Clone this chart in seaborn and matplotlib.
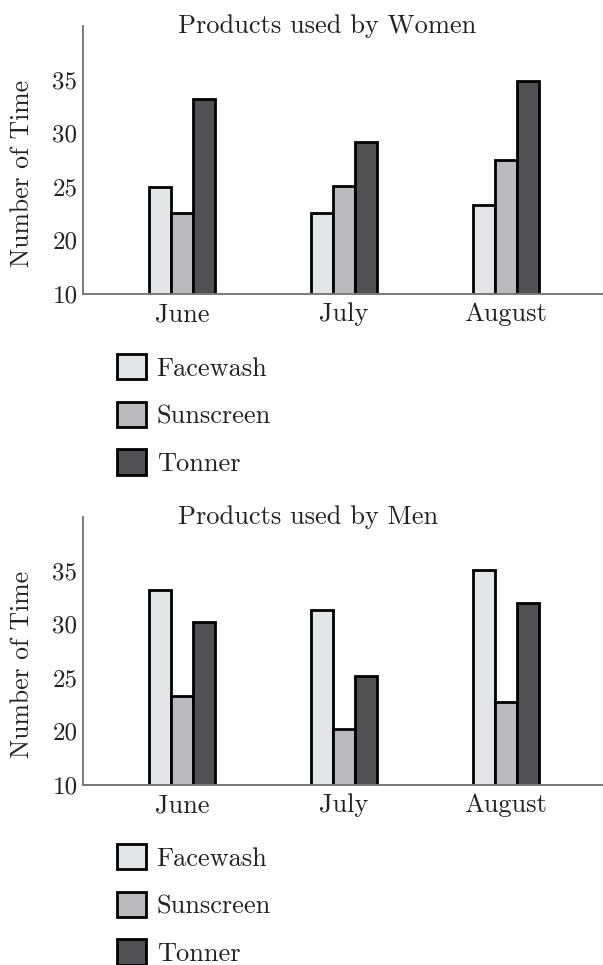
import seaborn as sns
import matplotlib.pyplot as plt
import pandas as pd

months = ["June", "July", "August"]
products = ["Facewash", "Sunscreen", "Tonner"]
women_facewash = [25.0, 22.6, 23.3]
women_sunscreen = [22.6, 25.1, 27.5]
women_tonner = [33.2, 29.2, 34.9]
men_facewash = [33.2, 31.3, 35.1]
men_sunscreen = [23.3, 20.2, 22.7]
men_tonner = [30.2, 25.2, 32.0]
# the axis is broken: the bottom tick at 15 is labelled 10
ytick_pos = [15, 20, 25, 30, 35]
ytick_labels = ["10", "20", "25", "30", "35"]
colors = ["#e4e5e7", "#b9babd", "#505155"]


def to_frame(fw, ss, tn):
    rows = []
    for prod, vals in zip(products, [fw, ss, tn]):
        for m, v in zip(months, vals):
            rows.append({"month": m, "product": prod, "value": v})
    return pd.DataFrame(rows)


sns.set_style("white")
plt.rcParams["font.family"] = ["cmr10", "DejaVu Serif"]
plt.rcParams["axes.formatter.use_mathtext"] = True
plt.rcParams["text.color"] = "#222222"

fig = plt.figure(figsize=(6.03, 9.65), dpi=100)
W, H = 603, 965


def panel(top_px, bottom_px, df, title, legend_top_px):
    ax = fig.add_axes([83 / W, 1 - bottom_px / H, (W - 83) / W, (bottom_px - top_px) / H])
    sns.barplot(data=df, x="month", y="value", hue="product", palette=colors,
                width=0.41, gap=0, edgecolor="black", linewidth=2.0,
                legend=True, ax=ax)
    ax.set_xlim(-0.61, 2.6)
    ax.set_ylim(15, 40)
    ax.set_yticks(ytick_pos)
    ax.set_yticklabels(ytick_labels)
    ax.set_xlabel("")
    ax.set_ylabel("Number of Time", fontsize=18.5, color="#222222")
    ax.yaxis.set_label_coords(-0.094, 0.45)
    for s in ["top", "right"]:
        ax.spines[s].set_visible(False)
    for s in ["left", "bottom"]:
        ax.spines[s].set_color("#7a7a7a")
        ax.spines[s].set_linewidth(1.4)
    ax.tick_params(axis="y", direction="in", length=7, width=1.2, color="#7a7a7a",
                   labelsize=18, labelcolor="#222222", pad=4)
    ax.tick_params(axis="x", length=0, labelsize=19, labelcolor="#222222", pad=6)
    ax.text((178 - 83) / (W - 83), 1.0, title, transform=ax.transAxes,
            ha="left", va="center", fontsize=19)
    handles, labels = ax.get_legend_handles_labels()
    ax.get_legend().remove()
    fig.legend(handles, labels, loc="upper left",
               bbox_to_anchor=(117 / W, 1 - legend_top_px / H),
               frameon=False, fontsize=19, borderpad=0, borderaxespad=0,
               handlelength=1.1, handleheight=1.1, handletextpad=0.4,
               labelspacing=0.8)
    return ax


panel(26, 294, to_frame(women_facewash, women_sunscreen, women_tonner),
      "Products used by Women", 354)
panel(517, 785, to_frame(men_facewash, men_sunscreen, men_tonner),
      "Products used by Men", 844)

fig.savefig("out.png", dpi=100)
plt.close()
